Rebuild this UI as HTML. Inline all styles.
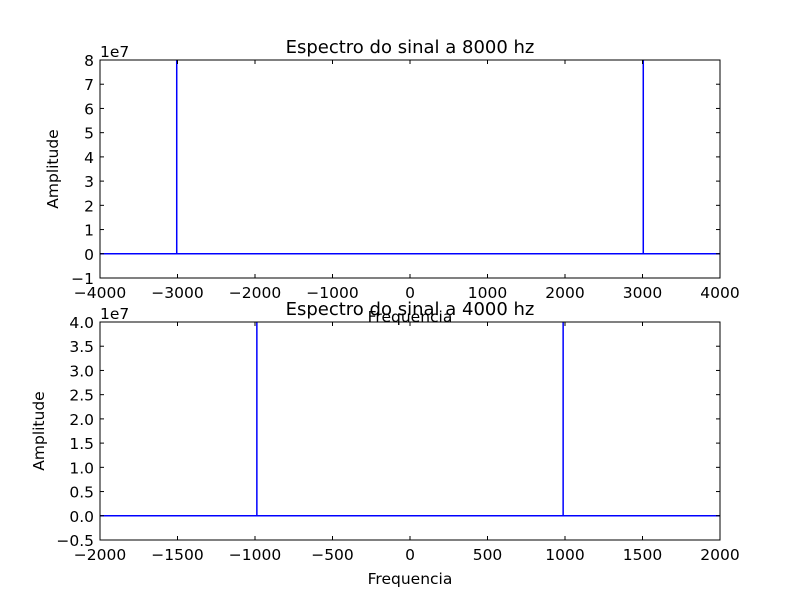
<!DOCTYPE html>
<html><head><meta charset="utf-8"><style>
body{margin:0;background:#fff;}
svg{font-family:"DejaVu Sans","Liberation Sans",sans-serif;}
</style></head><body>
<svg id="chart" width="800" height="600"></svg>
<script>
const topTitle = "Espectro do sinal a 8000 hz";
const topXTicks = [-4000,-3000,-2000,-1000,0,1000,2000,3000,4000];
const topYTicks = [-1,0,1,2,3,4,5,6,7,8];
const topSpikeFreqs = [-3010, 3010];
const topSpikeVals = [8.6, 8.6];
const botTitle = "Espectro do sinal a 4000 hz";
const botXTicks = [-2000,-1500,-1000,-500,0,500,1000,1500,2000];
const botYTicks = [-0.5,0,0.5,1,1.5,2,2.5,3,3.5,4];
const botSpikeFreqs = [-988, 988];
const botSpikeVals = [4.3, 4.3];

const NS="http://www.w3.org/2000/svg";
const svg=document.getElementById('chart');
function mk(tag,attrs,parent){const e=document.createElementNS(NS,tag);for(const k in attrs)e.setAttribute(k,attrs[k]);(parent||svg).appendChild(e);return e;}
const minus=s=>String(s).replace('-','\u2212');

function panel(id,top,bottom,xmin,xmax,ymin,ymax,xt,yt,fmtY,title,freqs,vals){
  const L=100,R=720;
  const sx=v=>L+(v-xmin)/(xmax-xmin)*(R-L);
  const sy=v=>bottom-(v-ymin)/(ymax-ymin)*(bottom-top);
  const g=mk('g',{});
  
  
  const cp=mk('clipPath',{id:id+'-clip'},g);
  mk('rect',{x:L,y:top,width:R-L,height:bottom-top},cp);
  const data=mk('g',{'clip-path':'url(#'+id+'-clip)'},g);
  let d='M'+sx(xmin)+','+sy(0);
  freqs.forEach((f,i)=>{d+=' L'+sx(f)+','+sy(0)+' L'+sx(f)+','+sy(vals[i])+' L'+sx(f)+','+sy(0);});
  d+=' L'+sx(xmax)+','+sy(0);
  const line=mk('path',{d:d,fill:'none',stroke:'#0000ff','stroke-width':1.5},data);
  
  
  const frame=mk('rect',{x:L,y:top,width:R-L,height:bottom-top,fill:'none',stroke:'#000','stroke-width':1},g);
  
  
  xt.forEach(v=>{const x=sx(v);
    mk('line',{x1:x,x2:x,y1:bottom,y2:bottom-4,stroke:'#000'},g);
    mk('line',{x1:x,x2:x,y1:top,y2:top+4,stroke:'#000'},g);
    const t=mk('text',{x:x,y:bottom+20,'text-anchor':'middle','font-size':15.5},g);t.textContent=minus(v);
    
    
  });
  yt.forEach(v=>{const y=sy(v);
    mk('line',{x1:L,x2:L+4,y1:y,y2:y,stroke:'#000'},g);
    mk('line',{x1:R,x2:R-4,y1:y,y2:y,stroke:'#000'},g);
    const t=mk('text',{x:L-6,y:y+6,'text-anchor':'end','font-size':15.5},g);t.textContent=minus(fmtY(v));
    
    
  });
  const ex=mk('text',{x:L,y:top-3,'font-size':15.5},g);ex.textContent='1e7';
  
  
  const tt=mk('text',{x:410,y:top-7,'text-anchor':'middle','font-size':18},g);tt.textContent=title;
  
  
  const yl=mk('text',{x:0,y:0,'text-anchor':'middle','font-size':15.5,transform:'translate('+(id==='top'?58:44)+','+((top+bottom)/2)+') rotate(-90)'},g);yl.textContent='Amplitude';
  
  
  const xl=mk('text',{x:410,y:bottom+44,'text-anchor':'middle','font-size':15.5},g);xl.textContent='Frequencia';
  
  
}
panel('top',60,278,-4000,4000,-1,8,topXTicks,topYTicks,v=>String(v),topTitle,topSpikeFreqs,topSpikeVals);
panel('bottom',322,540,-2000,2000,-0.5,4,botXTicks,botYTicks,v=>v.toFixed(1),botTitle,botSpikeFreqs,botSpikeVals);
</script>
</body></html>
